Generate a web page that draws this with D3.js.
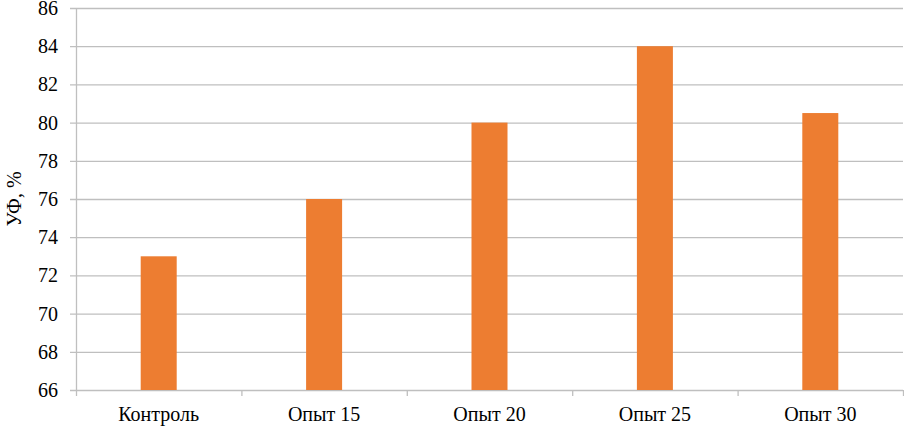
<!DOCTYPE html>
<html>
<head>
<meta charset="utf-8">
<script src="https://cdn.jsdelivr.net/npm/d3@7"></script>
<style>
  body { margin: 0; background: #fff; }
</style>
</head>
<body>
<svg id="chart" width="904" height="427"></svg>
<script>
// Data
const categories = ["Контроль", "Опыт 15", "Опыт 20", "Опыт 25", "Опыт 30"];
const values     = [73, 76, 80, 84, 80.5];
const yTicks     = [66, 68, 70, 72, 74, 76, 78, 80, 82, 84, 86];

const serif = "'Liberation Serif'";
const svg = d3.select("#chart");
const plotLeft = 76, plotRight = 903, plotTop = 8, plotBottom = 390;

const x = d3.scaleBand().domain(categories).range([plotLeft, plotRight]);
const y = d3.scaleLinear().domain([66, 86]).range([plotBottom, plotTop]);
const barW = 36;

// gridlines
svg.append("g")
  .selectAll("line")
  .data(yTicks)
  .join("line")
    .attr("x1", plotLeft - 6)
    .attr("x2", plotRight)
    .attr("y1", d => y(d) + 0.5)
    .attr("y2", d => y(d) + 0.5)
    .attr("stroke", "#bfbfbf")
    .attr("stroke-width", 1.3);

// y axis line
svg.append("line")
  .attr("x1", plotLeft + 0.5).attr("x2", plotLeft + 0.5)
  .attr("y1", plotTop).attr("y2", plotBottom + 0.5)
  .attr("stroke", "#bfbfbf").attr("stroke-width", 1.3);

// category boundary ticks
svg.append("g")
  .selectAll("line")
  .data(d3.range(categories.length + 1))
  .join("line")
    .attr("x1", i => plotLeft + i * x.bandwidth() + 0.5)
    .attr("x2", i => plotLeft + i * x.bandwidth() + 0.5)
    .attr("y1", plotBottom)
    .attr("y2", plotBottom + 6)
    .attr("stroke", "#bfbfbf").attr("stroke-width", 1.3);

// bars
svg.append("g")
  .selectAll("rect")
  .data(values)
  .join("rect")
    .attr("x", (d, i) => x(categories[i]) + x.bandwidth() / 2 - barW / 2)
    .attr("y", d => y(d))
    .attr("width", barW)
    .attr("height", d => y(66) - y(d))
    .attr("fill", "#ed7d31");

// y tick labels
svg.append("g")
  .selectAll("text")
  .data(yTicks)
  .join("text")
    .attr("x", 58)
    .attr("y", d => y(d))
    .attr("dy", "0.35em")
    .attr("text-anchor", "end")
    .attr("font-size", 20)
    .style("font-family", serif)
    .text(d => d);

// x labels
svg.append("g")
  .selectAll("text")
  .data(categories)
  .join("text")
    .attr("x", d => x(d) + x.bandwidth() / 2)
    .attr("y", 421)
    .attr("text-anchor", "middle")
    .attr("font-size", 20)
    .style("font-family", serif)
    .text(d => d);

// y axis title
svg.append("text")
  .attr("transform", `translate(21,${(plotTop + plotBottom) / 2}) rotate(-90)`)
  .attr("text-anchor", "middle")
  .attr("font-size", 20)
  .style("font-family", serif)
  .text("УФ, %");
</script>
</body>
</html>
